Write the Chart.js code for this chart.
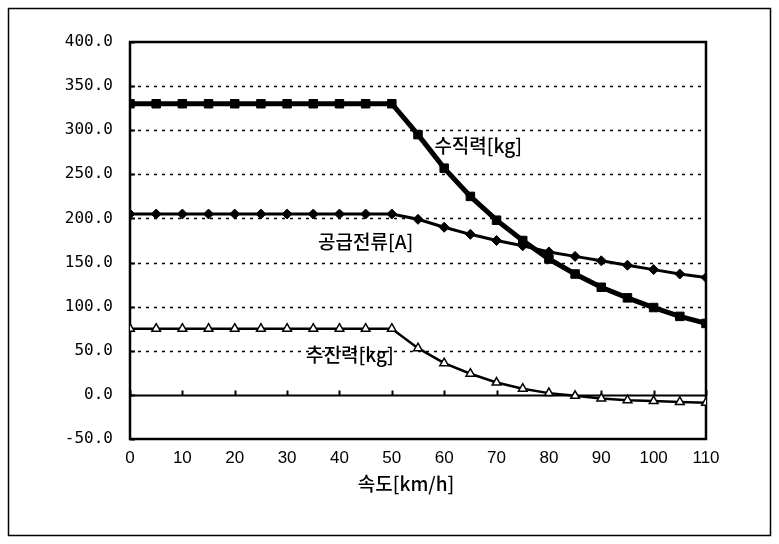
<!DOCTYPE html>
<html>
<head>
<meta charset="utf-8">
<script src="https://cdn.jsdelivr.net/npm/chart.js@4.4.1/dist/chart.umd.min.js"></script>
<style>
    html, body { margin: 0; padding: 0; background: #fff; }
    #wrap { width: 779px; height: 544px; position: relative; }
</style>
</head>
<body>
<div id="wrap"><canvas id="chart" width="779" height="544"></canvas></div>
<script>
"use strict";

// Chart data
var speeds = [0, 5, 10, 15, 20, 25, 30, 35, 40, 45, 50, 55, 60, 65, 70, 75, 80, 85, 90, 95, 100, 105, 110];
var liftForce = [330, 330, 330, 330, 330, 330, 330, 330, 330, 330, 330, 295, 257, 225, 198, 175, 154, 137, 122, 110, 99, 89, 81];
var supplyCurrent = [205, 205, 205, 205, 205, 205, 205, 205, 205, 205, 205, 199, 190, 182, 175, 169, 162, 157, 152, 147, 142, 137, 133];
var thrustForce = [75, 75, 75, 75, 75, 75, 75, 75, 75, 75, 75, 53, 36, 24, 14, 7, 2, -1, -4, -6, -7, -8, -9];
var seriesNames = ['수직력[kg]', '공급전류[A]', '추진력[kg]'];
// where each series name sits, in data units [x, y]
var nameSpots = [[66.5, 282], [45, 173], [42, 45]];
var xTitle = '속도[km/h]';

var toPoints = function toPoints(values) {
    return values.map(function (v, i) {
        return { x: speeds[i], y: v };
    });
};

// Draws the outer frame, dotted grid, zero line and the plot box
var framePlugin = {
    id: 'frame',
    beforeDatasetsDraw: function (chart) {
        var ctx = chart.ctx;
        var area = chart.chartArea;
        var xs = chart.scales.x;
        var ys = chart.scales.y;
        ctx.save();

        // dotted horizontal grid
        ctx.strokeStyle = '#000';
        ctx.lineWidth = 1.5;
        ctx.setLineDash([3, 5]);
        ys.ticks.forEach(function (t) {
            if (t.value === 0 || t.value === ys.max || t.value === ys.min) return;
            var y = Math.round(ys.getPixelForValue(t.value)) + 0.5;
            ctx.beginPath();
            ctx.moveTo(area.left, y);
            ctx.lineTo(area.right, y);
            ctx.stroke();
        });
        ctx.setLineDash([]);

        // zero line with tick marks
        var y0 = Math.round(ys.getPixelForValue(0)) + 0.5;
        ctx.lineWidth = 2;
        ctx.beginPath();
        ctx.moveTo(area.left, y0);
        ctx.lineTo(area.right, y0);
        xs.ticks.forEach(function (t) {
            var x = Math.round(xs.getPixelForValue(t.value)) + 0.5;
            ctx.moveTo(x, y0);
            ctx.lineTo(x, y0 - 5);
        });
        ctx.stroke();

        // y tick marks inside the left axis
        ctx.beginPath();
        ys.ticks.forEach(function (t) {
            var y = Math.round(ys.getPixelForValue(t.value)) + 0.5;
            ctx.moveTo(area.left, y);
            ctx.lineTo(area.left + 5, y);
        });
        ctx.stroke();

        // plot box
        ctx.lineWidth = 2.5;
        ctx.strokeRect(area.left, area.top, area.right - area.left, area.bottom - area.top);
        ctx.restore();
    },
    afterDraw: function (chart) {
        var ctx = chart.ctx;
        var xs = chart.scales.x;
        var ys = chart.scales.y;
        ctx.save();

        // outer frame
        ctx.strokeStyle = '#000';
        ctx.lineWidth = 1.5;
        ctx.strokeRect(8.5, 8.5, 762, 527);

        // series names
        ctx.fillStyle = '#000';
        ctx.font = '500 19px "Noto Sans CJK KR", sans-serif';
        ctx.textAlign = 'center';
        ctx.textBaseline = 'middle';
        seriesNames.forEach(function (name, i) {
            ctx.fillText(name, xs.getPixelForValue(nameSpots[i][0]), ys.getPixelForValue(nameSpots[i][1]));
        });

        // x axis title
        ctx.fillText(xTitle, (chart.chartArea.left + chart.chartArea.right) / 2 - 12, 484);
        ctx.restore();
    }
};

var ctx = document.getElementById('chart').getContext('2d');
var chart = new Chart(ctx, {
    type: 'line',
    data: {
        datasets: [{
            label: seriesNames[0],
            data: toPoints(liftForce),
            borderColor: '#000',
            backgroundColor: '#000',
            borderWidth: 5,
            pointStyle: 'rect',
            pointRadius: 6,
            pointBorderWidth: 1,
            tension: 0
        }, {
            label: seriesNames[1],
            data: toPoints(supplyCurrent),
            borderColor: '#000',
            backgroundColor: '#000',
            borderWidth: 3,
            pointStyle: 'rectRot',
            pointRadius: 5,
            pointBorderWidth: 1,
            tension: 0
        }, {
            label: seriesNames[2],
            data: toPoints(thrustForce),
            borderColor: '#000',
            backgroundColor: '#fff',
            borderWidth: 2.5,
            pointStyle: 'triangle',
            pointRadius: 5,
            pointBorderWidth: 1.5,
            tension: 0
        }]
    },
    options: {
        responsive: false,
        animation: false,
        devicePixelRatio: 1,
        layout: {
            padding: { left: 0, top: 42, right: 73, bottom: 0 }
        },
        plugins: {
            legend: { display: false },
            tooltip: { enabled: false }
        },
        scales: {
            x: {
                type: 'linear',
                min: 0,
                max: 110,
                afterFit: function (scale) { scale.height = 105; },
                grid: { display: false, drawTicks: false },
                border: { display: false },
                ticks: {
                    stepSize: 10,
                    padding: 9,
                    maxRotation: 0,
                    autoSkip: false,
                    color: '#000',
                    font: { family: '"Liberation Sans", sans-serif', size: 17 }
                }
            },
            y: {
                min: -50,
                max: 400,
                afterFit: function (scale) { scale.width = 130; },
                grid: { display: false, drawTicks: false },
                border: { display: false },
                ticks: {
                    stepSize: 50,
                    padding: 17,
                    color: '#000',
                    font: { family: '"DejaVu Sans Mono", monospace', size: 16 },
                    callback: function (v) { return v.toFixed(1); }
                }
            }
        }
    },
    plugins: [framePlugin]
});
</script>
</body>
</html>
